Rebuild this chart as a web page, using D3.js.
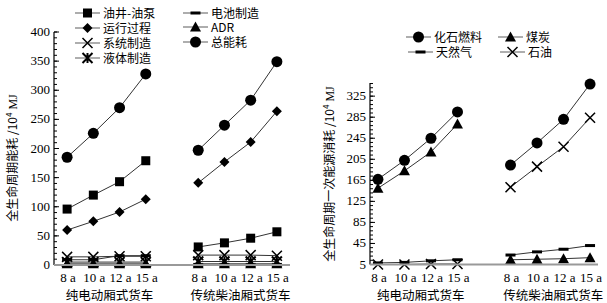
<!DOCTYPE html>
<html>
<head>
<meta charset="utf-8">
<script src="https://cdn.jsdelivr.net/npm/d3@7"></script>
<style>
  body { margin: 0; background: #fff; }
  svg text { fill: #000; }
</style>
</head>
<body>
<div id="chart"></div>
<script>
// categories: 4 years per truck type, blank slot between groups
const years = ["8 a", "10 a", "12 a", "15 a"];
const groups = ["纯电动厢式货车", "传统柴油厢式货车"];

// left chart: life-cycle energy use (10^4 MJ), EV group then diesel group
const leftNames = ["油井-油泵", "运行过程", "系统制造", "液体制造", "电池制造", "ADR", "总能耗"];
const wellPump = [[96, 120, 143, 179], [31, 38, 46, 57]];
const operation = [[60, 75, 91, 113], [141, 177, 211, 264]];
const systemMfg = [[14, 14, 15, 15], [17, 17, 17, 16]];
const fluidMfg = [[5, 5, 5, 5], [6, 6, 6, 6]];
const batteryMfg = [[9, 9, 16, 16], [1, 1, 1, 1]];
const adr = [[2, 2, 2, 2], [2, 2, 2, 2]];
const totalEnergy = [[185, 226, 270, 328], [197, 240, 283, 349]];
const leftTicks = [0, 50, 100, 150, 200, 250, 300, 350, 400];

// right chart: primary energy consumption (10^4 MJ)
const rightNames = ["化石燃料", "煤炭", "天然气", "石油"];
const fossil = [[167, 203, 245, 295], [194, 236, 281, 348]];
const coal = [[150, 183, 219, 272], [14, 15, 16, 18]];
const gas = [[8, 9, 12, 14], [23, 29, 34, 41]];
const oil = [[5, 5, 6, 6], [152, 191, 229, 284]];
const rightTicks = [5, 45, 85, 125, 165, 205, 245, 285, 325];

const W = 607, H = 303;
const svg = d3.select("#chart").append("svg")
  .attr("width", W).attr("height", H)
  .style("font-family", "'Noto Sans CJK SC', sans-serif");

const numFont = "'Liberation Serif', 'DejaVu Serif', serif";
const slots = ["g0-0", "g0-1", "g0-2", "g0-3", "gap", "g1-0", "g1-1", "g1-2", "g1-3"];

// marker drawing
function marker(g, type, cx, cy) {
  const s = g.append("g").attr("transform", `translate(${cx},${cy})`);
  if (type === "circle") s.append("circle").attr("r", 5.5).attr("fill", "#000");
  else if (type === "square") s.append("rect").attr("x", -4.5).attr("y", -4.5).attr("width", 9).attr("height", 9).attr("fill", "#000");
  else if (type === "diamond") s.append("path").attr("d", "M0,-5L5,0L0,5L-5,0Z").attr("fill", "#000");
  else if (type === "triangle") s.append("path").attr("d", "M0,-5.5L5.5,4.5L-5.5,4.5Z").attr("fill", "#000");
  else if (type === "cross") s.append("path").attr("d", "M-5,-5L5,5M-5,5L5,-5").attr("stroke", "#000").attr("stroke-width", 1.5);
  else if (type === "asterisk") s.append("path").attr("d", "M-5,-5L5,5M-5,5L5,-5M0,-5L0,5").attr("stroke", "#000").attr("stroke-width", 2);
  else if (type === "dash") s.append("rect").attr("x", -5).attr("y", -1.5).attr("width", 10).attr("height", 3).attr("fill", "#000");
}

function panel(opt) {
  const x = d3.scalePoint().domain(slots).range(opt.xRange).padding(opt.pad);
  const y = d3.scaleLinear().domain(opt.yDomain).range(opt.yRange);
  const g = svg.append("g");
  const x0 = opt.xRange[0];

  // y axis with inner ticks
  const minor = d3.range(opt.yDomain[0], opt.yDomain[1] + 0.01, opt.minorStep);
  g.selectAll("line.minor").data(minor).enter().append("line")
    .attr("x1", x0).attr("x2", x0 + 3)
    .attr("y1", d => y(d)).attr("y2", d => y(d))
    .attr("stroke", "#000").attr("stroke-width", 1);
  g.selectAll("line.major").data(opt.ticks).enter().append("line")
    .attr("x1", x0).attr("x2", x0 + 5)
    .attr("y1", d => y(d)).attr("y2", d => y(d))
    .attr("stroke", "#000").attr("stroke-width", 1);
  g.selectAll("text.ytick").data(opt.ticks).enter().append("text")
    .attr("x", x0 - 4).attr("y", d => y(d) + 4)
    .attr("text-anchor", "end")
    .style("font-family", numFont).style("font-size", "13px")
    .text(d => d);
  g.append("line").attr("x1", x0).attr("x2", x0)
    .attr("y1", y(opt.yDomain[1])).attr("y2", y(opt.yDomain[0]))
    .attr("stroke", "#000").attr("stroke-width", 1.2);

  // series
  opt.series.forEach(s => {
    s.values.forEach((vals, gi) => {
      const pts = vals.map((v, i) => [x(`g${gi}-${i}`), y(v)]);
      g.append("path").attr("d", d3.line()(pts))
        .attr("fill", "none").attr("stroke", "#333").attr("stroke-width", 1);
      pts.forEach(p => marker(g, s.type, p[0], p[1]));
    });
  });

  // x axis
  g.append("line").attr("x1", x0).attr("x2", opt.xRange[1])
    .attr("y1", y(opt.yDomain[0])).attr("y2", y(opt.yDomain[0]))
    .attr("stroke", "#999").attr("stroke-width", 2);
  groups.forEach((name, gi) => {
    years.forEach((yr, i) => {
      g.append("text").attr("x", x(`g${gi}-${i}`) + 1).attr("y", y(opt.yDomain[0]) + 17)
        .attr("text-anchor", "middle")
        .style("font-family", numFont).style("font-size", "13px")
        .text(yr);
    });
    const cx = (x(`g${gi}-0`) + x(`g${gi}-3`)) / 2 + 3;
    g.append("text").attr("x", cx).attr("y", y(opt.yDomain[0]) + 35)
      .attr("text-anchor", "middle").style("font-size", "12.5px")
      .text(name);
  });

  // y title
  const t = g.append("text")
    .attr("transform", `translate(${opt.titleX},${opt.titleY}) rotate(-90)`)
    .attr("text-anchor", "middle").style("font-size", "12px");
  t.append("tspan").text(opt.title + " /10");
  t.append("tspan").attr("dy", -5).style("font-size", "8px").text("4");
  t.append("tspan").attr("dy", 5).style("font-family", numFont).text(" MJ");

  // legend
  opt.legend.forEach(l => {
    g.append("line").attr("x1", l.x).attr("x2", l.x + 25)
      .attr("y1", l.y).attr("y2", l.y).attr("stroke", "#777").attr("stroke-width", 1.2);
    marker(g, l.type, l.x + 12.5, l.y);
    g.append("text").attr("x", l.x + 28).attr("y", l.y + 4.5)
      .style("font-size", "12px").text(l.name);
  });
}

panel({
  xRange: [54, 290], pad: 0.5,
  yDomain: [0, 400], yRange: [265, 32],
  ticks: leftTicks, minorStep: 10,
  title: "全生命周期能耗", titleX: 17, titleY: 158,
  series: [
    { type: "square", values: wellPump },
    { type: "diamond", values: operation },
    { type: "cross", values: systemMfg },
    { type: "asterisk", values: fluidMfg },
    { type: "dash", values: batteryMfg },
    { type: "triangle", values: adr },
    { type: "circle", values: totalEnergy }
  ],
  legend: [
    { name: leftNames[0], type: "square", x: 75, y: 13 },
    { name: leftNames[1], type: "diamond", x: 75, y: 28 },
    { name: leftNames[2], type: "cross", x: 75, y: 43 },
    { name: leftNames[3], type: "asterisk", x: 75, y: 58 },
    { name: leftNames[4], type: "dash", x: 183, y: 13 },
    { name: leftNames[5], type: "triangle", x: 183, y: 27 },
    { name: leftNames[6], type: "circle", x: 183, y: 42 }
  ]
});

panel({
  xRange: [370, 598], pad: 0.3,
  yDomain: [5, 350], yRange: [264.5, 83],
  ticks: rightTicks, minorStep: 8,
  title: "全生命周期一次能源消耗", titleX: 334, titleY: 174,
  series: [
    { type: "circle", values: fossil },
    { type: "triangle", values: coal },
    { type: "dash", values: gas },
    { type: "cross", values: oil }
  ],
  legend: [
    { name: rightNames[0], type: "circle", x: 406, y: 37 },
    { name: rightNames[1], type: "triangle", x: 498, y: 37 },
    { name: rightNames[2], type: "dash", x: 408, y: 52 },
    { name: rightNames[3], type: "cross", x: 500, y: 52 }
  ]
});
</script>
</body>
</html>
